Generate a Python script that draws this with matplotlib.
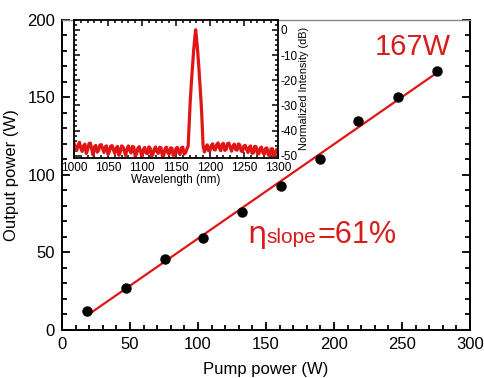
import matplotlib
matplotlib.use("Agg")
import matplotlib.pyplot as plt
import numpy as np
from matplotlib.ticker import MultipleLocator

plt.rcParams["font.family"] = ["Liberation Sans", "DejaVu Sans"]
plt.rcParams["axes.unicode_minus"] = False

RED = "#e01616"
TXT_RED = "#d81c1c"

# slope-efficiency data
pump_w = [18.6, 47.0, 75.5, 104.0, 132.5, 161.0, 190.0, 218.0, 247.0, 275.5]
output_w = [12.5, 27.0, 45.5, 59.5, 76.0, 92.5, 110.0, 134.5, 150.0, 167.0]

# inset spectrum: noise floor left of the peak (1000-1166 nm, 2 nm step)
floor_left_nm = list(range(1000, 1167, 2))
floor_left_db = [
    -45.0, -47.2, -47.8, -45.6, -44.6, -46.9, -48.2, -46.0, -45.3, -49.0,
    -47.5, -45.1, -44.9, -47.3, -49.6, -46.4, -45.8, -48.5, -47.9, -45.7,
    -45.5, -47.0, -48.6, -46.3, -46.0, -49.4, -48.3, -46.1, -45.9, -47.6,
    -49.0, -46.8, -46.2, -49.7, -48.5, -46.0, -46.4, -48.1, -49.8, -47.0,
    -46.0, -47.9, -48.8, -46.2, -46.5, -50.2, -49.2, -46.9, -46.3, -48.4,
    -50.3, -47.5, -46.6, -48.8, -49.1, -46.4, -46.8, -50.1, -49.5, -47.2,
    -46.4, -48.3, -49.0, -46.6, -46.7, -50.0, -49.9, -47.1, -46.5, -48.7,
    -49.3, -46.8, -46.9, -49.8, -49.6, -47.0, -46.6, -48.6, -49.4, -46.7,
    -46.5, -49.2, -48.8, -47.4,
]
# lasing line around 1179 nm
peak_nm = list(range(1168, 1191))
peak_db = [
    -46.0, -40.0, -33.5, -28.5, -24.0, -20.0, -16.0, -12.0, -8.5, -5.5,
    -2.5, 0.0, -2.5, -5.5, -8.5, -12.0, -16.0, -20.0, -24.0, -28.5,
    -33.5, -40.0, -46.0,
]
# noise floor right of the peak (1192-1300 nm, 2 nm step)
floor_right_nm = list(range(1192, 1301, 2))
floor_right_db = [
    -48.4, -46.7, -45.6, -47.9, -48.0, -45.8, -45.2, -47.4, -47.6, -45.5,
    -44.8, -46.9, -47.9, -45.3, -45.0, -47.8, -47.4, -45.1, -44.9, -46.6,
    -48.1, -46.0, -45.3, -47.5, -47.7, -45.2, -45.6, -48.0, -48.3, -46.1,
    -45.8, -47.3, -48.6, -46.5, -46.0, -48.9, -48.8, -46.2, -46.3, -49.1,
    -49.2, -46.9, -46.5, -48.7, -49.4, -47.0, -46.8, -49.6, -49.9, -47.2,
    -47.1, -50.0, -49.3, -47.4, -47.6,
]

wl = np.array(floor_left_nm + peak_nm + floor_right_nm, dtype=float)
spec = np.array(floor_left_db + peak_db + floor_right_db)

fig = plt.figure(figsize=(4.84, 3.78), dpi=100)
ax = fig.add_axes([0.128, 0.127, 0.843, 0.821])

# linear fit through the measured points
slope, icpt = np.polyfit(pump_w, output_w, 1)
fit_x = np.array([min(pump_w), max(pump_w)])
ax.plot(fit_x, slope * fit_x + icpt, color=RED, lw=1.6, zorder=2)
ax.plot(pump_w, output_w, "o", color="black", ms=6.5, zorder=3)

ax.set_xlim(0, 300)
ax.set_ylim(0, 200)
ax.xaxis.set_major_locator(MultipleLocator(50))
ax.xaxis.set_minor_locator(MultipleLocator(10))
ax.yaxis.set_major_locator(MultipleLocator(50))
ax.yaxis.set_minor_locator(MultipleLocator(10))
ax.tick_params(which="both", direction="in", top=False, right=True,
               labelsize=12, width=1.3, pad=5)
ax.tick_params(which="major", length=6)
ax.tick_params(which="minor", length=3.5)
for side in ("left", "bottom", "right"):
    ax.spines[side].set_linewidth(1.4)
ax.spines["top"].set_color("#888888")
ax.spines["top"].set_linewidth(1.0)
ax.set_xlabel("Pump power (W)", fontsize=12, labelpad=7)
ax.set_ylabel("Output power (W)", fontsize=12, labelpad=6)

ax.text(230, 177, "167W", color=TXT_RED, fontsize=21, ha="left", va="baseline")
ax.text(135.9, 56, "\u03b7", color=TXT_RED, fontsize=22, ha="left",
        va="baseline", family="DejaVu Sans")
ax.text(150.4, 56, "slope", color=TXT_RED, fontsize=15, ha="left", va="baseline")
ax.text(188, 56, "=61%", color=TXT_RED, fontsize=22, ha="left", va="baseline")

# inset: lasing spectrum
axin = fig.add_axes([0.153, 0.582, 0.421, 0.366])
axin.plot(wl, spec, color=RED, lw=2.3)
axin.set_xlim(1000, 1300)
axin.set_ylim(-50.8, 4)
axin.xaxis.set_major_locator(MultipleLocator(50))
axin.xaxis.set_minor_locator(MultipleLocator(10))
axin.yaxis.set_major_locator(MultipleLocator(10))
axin.yaxis.set_minor_locator(MultipleLocator(2))
axin.yaxis.tick_right()
axin.yaxis.set_label_position("right")
axin.tick_params(which="both", direction="in", top=True, bottom=True,
                 left=True, right=True, labelleft=False, labelright=True,
                 labelsize=8.5, width=1.1)
axin.tick_params(axis="x", pad=3)
axin.tick_params(axis="y", pad=2)
axin.tick_params(which="major", length=4)
axin.tick_params(which="minor", length=2)
for sp in axin.spines.values():
    sp.set_linewidth(1.3)
axin.set_xlabel("Wavelength (nm)", fontsize=8.5, labelpad=0)
axin.set_ylabel("Normalized Intensity (dB)", fontsize=7.8, labelpad=1)

fig.savefig("out.png", dpi=100)
